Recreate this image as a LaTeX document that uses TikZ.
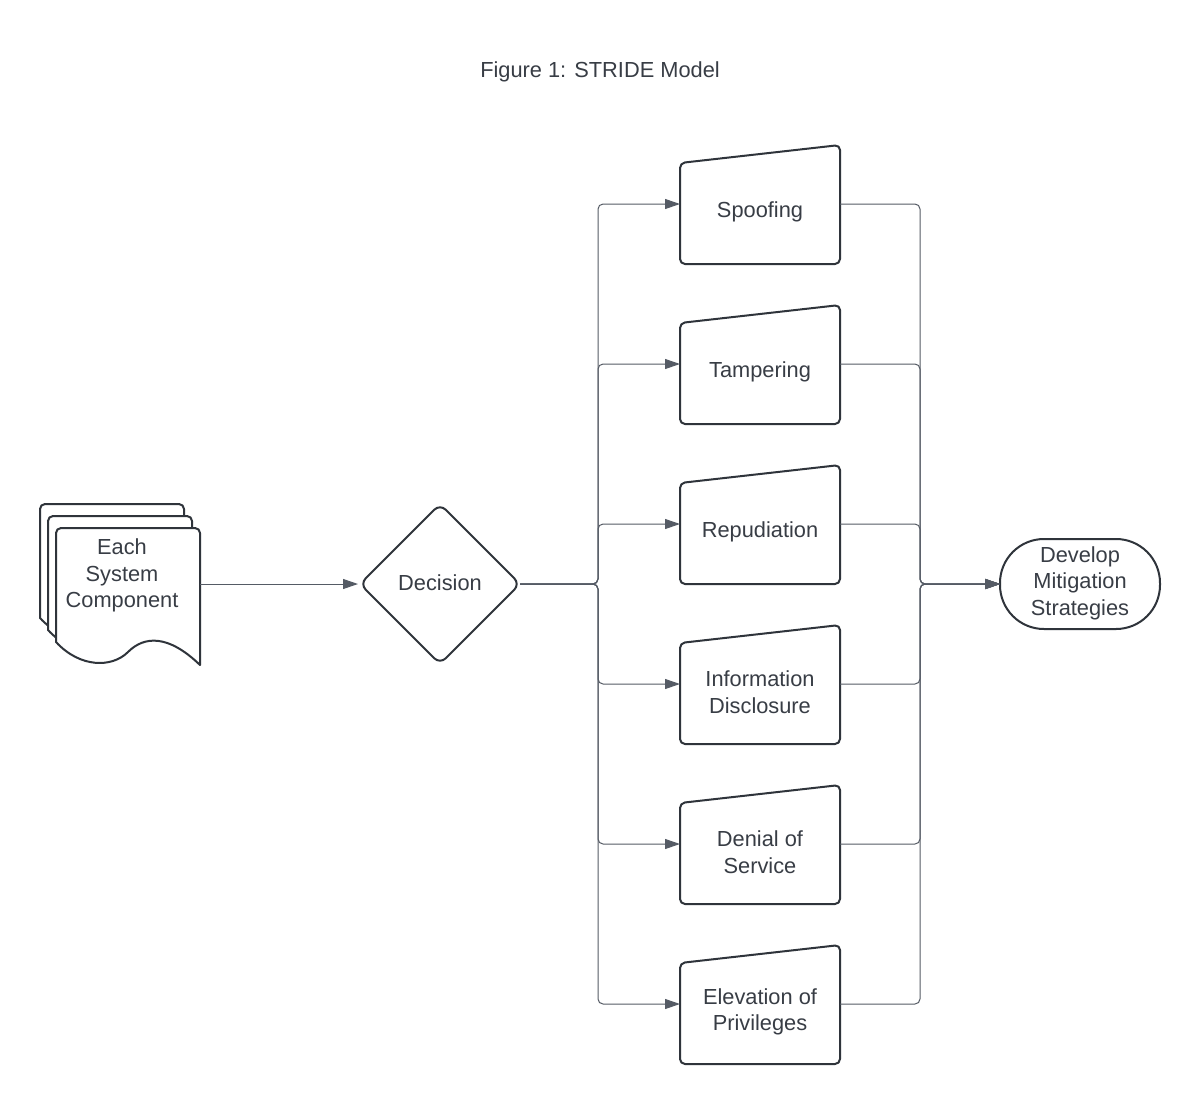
\documentclass[tikz,border=0pt]{standalone}
\usepackage{fontspec}
\setmainfont{Liberation Sans}
\usetikzlibrary{arrows.meta,shapes.geometric,calc}
\definecolor{shp}{HTML}{2F343B}
\definecolor{cn}{HTML}{555B65}
\definecolor{tx}{HTML}{383D45}
\tikzset{
  shapeline/.style={draw=shp, line width=2pt, line join=round},
  conn/.style={draw=cn, line width=1pt, rounded corners=5pt, -{Triangle[length=15pt,width=10pt]}},
  lbl/.style={text=tx, font=\fontsize{21.8}{26.5}\selectfont, align=center, inner sep=0pt},
  anchorbox/.style={draw=none, minimum width=160pt, minimum height=120pt, inner sep=0pt, outer sep=0pt},
}
\newcommand\strideitem[3]{%
  \node[anchorbox] (#1) at (760,#2) {};
  \draw[shapeline, fill=white, rounded corners=5pt] (680,#2-41) -- (840,#2-59) -- (840,#2+60) -- (680,#2+60) -- cycle;
  \node[lbl] (#1-t) at (760,#2+8) {#3};
}
\newcommand\docshape[2]{%
  \draw[shapeline, fill=white] (#1+200,#2+665) -- (#1+200,#2+533) [rounded corners=5pt] -- (#1+200,#2+528) -- (#1+56,#2+528) [sharp corners] -- (#1+56,#2+533) -- (#1+56,#2+642)
    .. controls (#1+80,#2+668) and (#1+112,#2+668) .. (#1+128,#2+652)
    .. controls (#1+144,#2+636) and (#1+168,#2+634) .. (#1+200,#2+665) -- cycle;
}
\begin{document}
\begin{tikzpicture}[x=1pt,y=-1pt]
  \fill[white] (0,0) rectangle (1200,1104);
  \useasboundingbox (0,0) rectangle (1200,1104);

  \node[lbl] (title) at (600,72) {Figure 1: STRIDE Model};

  % multi-document
  \docshape{-16}{-24}
  \docshape{-8}{-12}
  \docshape{0}{0}
  \node[draw=none, minimum width=144pt, minimum height=112pt, inner sep=0pt, outer sep=0pt] (doc) at (128,584) {};
  \node[lbl] (doc-t) at (122,575.5) {Each\\System\\Component};

  % decision
  \node[diamond, shapeline, fill=white, rounded corners=8pt, minimum width=160pt, minimum height=160pt, inner sep=0pt, outer sep=0pt, aspect=1] (dec) at (440,584) {};
  \node[lbl] (dec-t) at (440,583) {Decision};

  % STRIDE items
  \strideitem{s}{204}{Spoofing}
  \strideitem{t}{364}{Tampering}
  \strideitem{r}{524}{Repudiation}
  \strideitem{i}{684}{Information\\Disclosure}
  \strideitem{d}{844}{Denial of\\Service}
  \strideitem{e}{1004}{Elevation of\\Privileges}

  % terminal
  \node[shapeline, fill=white, rounded corners=44pt, minimum width=160pt, minimum height=90pt, inner sep=0pt, outer sep=0pt] (term) at (1080,584) {};
  \node[lbl] (term-t) at (1080,583) {Develop\\Mitigation\\Strategies};

  \coordinate (jl) at (598,584);
  \coordinate (jr) at (920,584);

  % connectors
  \draw[conn, shorten >=2pt] (doc.east) -- (dec.west);
  \foreach \n in {s,t,r,i,d,e}{
    \draw[conn] (dec.east) -- (jl) |- (\n.west);
    \draw[conn] (\n.east) -| (jr) -- (term.west);
  }
\end{tikzpicture}
\end{document}
